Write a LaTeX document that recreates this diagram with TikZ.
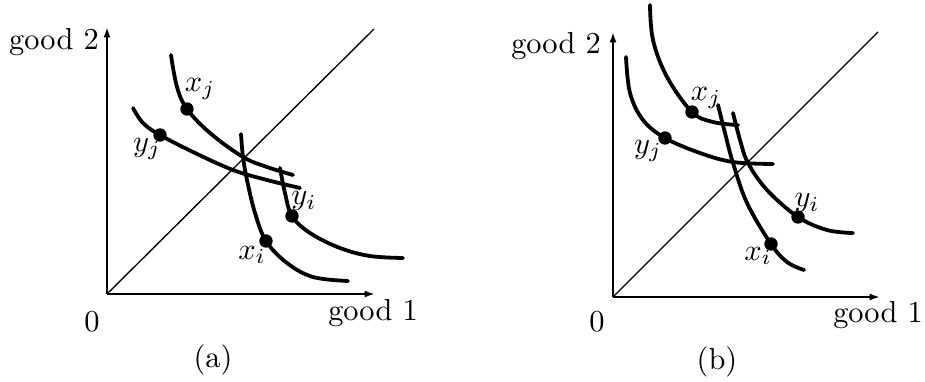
\documentclass[tikz,border=0pt]{standalone}
\usetikzlibrary{arrows.meta}
\begin{document}
\begin{tikzpicture}[x=0.329pt,y=-0.329pt,
  axis/.style={line width=0.7pt,-{Latex[length=3.4pt,width=2.3pt]}},
  diag/.style={line width=0.45pt},
  icurve/.style={line width=1.25pt,line cap=round},
  pt/.style={circle,fill=black,inner sep=0pt,minimum size=4.4pt},
  lab/.style={inner sep=0pt,font=\normalsize}]
\useasboundingbox (0,0) rectangle (925,381);
% ---------- panel (a)
\coordinate (oa) at (107,294);
\coordinate (ya) at (107,27);
\coordinate (xa) at (375,294);
\coordinate (da) at (374,29);
\draw[axis] (oa) -- (ya);
\draw[axis] (oa) -- (xa);
\draw[diag] (oa) -- (da);
\draw[icurve] plot[smooth,tension=0.6] coordinates {(171,55) (177,87) (187,109) (210,133) (243,157) (267,167) (293,175)};
\draw[icurve] plot[smooth,tension=0.6] coordinates {(133,108) (143,123) (160,135) (193,152) (233,170) (267,180) (300,188)};
\draw[icurve] plot[smooth,tension=0.6] coordinates {(241,134) (243,157) (247,180) (255,213) (266,241) (287,263) (313,277) (348,281)};
\draw[icurve] plot[smooth,tension=0.6] coordinates {(280,168) (285,193) (292,216) (310,233) (340,248) (370,256) (403,258)};
\node[pt] (axj) at (187,109) {};
\node[pt] (ayj) at (160,135) {};
\node[pt] (axi) at (266,241) {};
\node[pt] (ayi) at (292,216) {};
\node[lab] (laxj) at (200,89) {$x_j$};
\node[lab] (layj) at (147,149) {$y_j$};
\node[lab] (layi) at (304,201) {$y_i$};
\node[lab] (laxi) at (252,255) {$x_i$};
\node[lab] (ag2) at (54,42) {good 2};
\node[lab] (a0) at (92,322) {0};
\node[lab] (ag1) at (373,313) {good 1};
\node[lab] (acap) at (213,360) {(a)};
% ---------- panel (b)
\coordinate (ob) at (613,297);
\coordinate (yb) at (613,32);
\coordinate (xb) at (880,297);
\coordinate (db) at (878,32);
\draw[axis] (ob) -- (yb);
\draw[axis] (ob) -- (xb);
\draw[diag] (ob) -- (db);
\draw[icurve] plot[smooth,tension=0.6] coordinates {(650,5) (653,40) (667,77) (692,112) (713,122) (738,125)};
\draw[icurve] plot[smooth,tension=0.6] coordinates {(626,57) (630,93) (643,120) (665,138) (700,153) (733,162) (773,164)};
\draw[icurve] plot[smooth,tension=0.6] coordinates {(718,105) (725,133) (733,163) (747,203) (771,244) (787,262) (804,270)};
\draw[icurve] plot[smooth,tension=0.6] coordinates {(733,113) (740,140) (748,163) (767,190) (798,217) (827,230) (853,233)};
\node[pt] (bxj) at (692,112) {};
\node[pt] (byj) at (665,138) {};
\node[pt] (bxi) at (771,244) {};
\node[pt] (byi) at (798,217) {};
\node[lab] (lbxj) at (706,98) {$x_j$};
\node[lab] (lbyj) at (648,151) {$y_j$};
\node[lab] (lbyi) at (807,203) {$y_i$};
\node[lab] (lbxi) at (758,256) {$x_i$};
\node[lab] (bg2) at (556,46) {good 2};
\node[lab] (b0) at (597,322) {0};
\node[lab] (bg1) at (878,315) {good 1};
\node[lab] (bcap) at (717,362) {(b)};
\end{tikzpicture}
\end{document}
